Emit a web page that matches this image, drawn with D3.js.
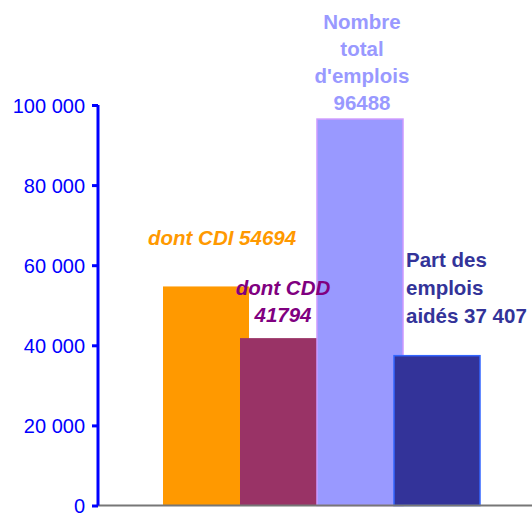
<!DOCTYPE html>
<html>
<head>
<meta charset="utf-8">
<script src="https://cdn.jsdelivr.net/npm/d3@7"></script>
<style>
  body { margin: 0; background: #fff; }
  svg { display: block; font-family: "Liberation Sans", Arial, sans-serif; }
</style>
</head>
<body>
<div id="chart"></div>
<script>
// chart values
var categories = ['CDI', 'CDD', 'Total', 'Aides'];
var values = [54694, 41794, 96488, 37407];
var yTicks = [0, 20000, 40000, 60000, 80000, 100000];
var labelLines = [
  ['dont CDI 54694'],
  ['dont CDD', '41794'],
  ['Nombre', 'total', "d'emplois", '96488'],
  ['Part des', 'emplois', 'aidés 37 407']
];

var fills = ['#FF9900', '#993366', '#9999FF', '#333399'];
var strokes = ['none', 'none', '#CC99FF', '#3366FF'];
var labelColors = ['#FF9900', '#800080', '#9999FF', '#333399'];

var width = 532, height = 513;

var svg = d3.select('#chart').append('svg')
  .attr('width', width)
  .attr('height', height);

var y = d3.scaleLinear().domain([0, 100000]).range([505.5, 105]);
var x = d3.scaleBand().domain(categories).range([163, 471]).paddingInner(0);
var barW = x.bandwidth() + 9;

// bars, drawn in order so each overlaps the previous
svg.selectAll('rect.bar')
  .data(values)
  .enter()
  .append('rect')
  .attr('class', 'bar')
  .attr('x', function(d, i) { return x(categories[i]); })
  .attr('y', function(d) { return y(d); })
  .attr('width', barW)
  .attr('height', function(d) { return y(0) - y(d); })
  .attr('fill', function(d, i) { return fills[i]; })
  .attr('stroke', function(d, i) { return strokes[i]; })
  .attr('stroke-width', 1.5);

// baseline
svg.append('line')
  .attr('x1', 98).attr('x2', width)
  .attr('y1', y(0)).attr('y2', y(0))
  .attr('stroke', '#777')
  .attr('stroke-width', 2);

// y axis
var axis = svg.append('g')
  .attr('transform', 'translate(98,0)')
  .call(d3.axisLeft(y)
    .tickValues(yTicks)
    .tickSize(6)
    .tickPadding(7)
    .tickFormat(function(d) { return d3.format(',')(d).replace(/,/g, ' '); }));
axis.select('.domain')
  .attr('stroke', '#0000FF')
  .attr('stroke-width', 3)
  .attr('d', 'M0,' + y(100000) + 'V' + y(0));
axis.selectAll('.tick line').attr('stroke', '#0000FF').attr('stroke-width', 3);
axis.selectAll('.tick text')
  .attr('fill', '#0000FF')
  .attr('font-size', 20)
  .attr('font-family', '"Liberation Sans", Arial, sans-serif')
  .attr('dy', '0.35em');

// annotations
var labelPos = [
  { x: 148, y: 245, anchor: 'start', italic: true, lh: 27 },
  { x: 283, y: 295, anchor: 'middle', italic: true, lh: 27 },
  { x: 362, y: 29, anchor: 'middle', italic: false, lh: 27 },
  { x: 406, y: 267, anchor: 'start', italic: false, lh: 28 }
];

labelLines.forEach(function(lines, i) {
  var p = labelPos[i];
  var t = svg.append('text')
    .attr('fill', labelColors[i])
    .attr('font-size', 20.5)
    .attr('font-weight', 'bold')
    .attr('font-style', p.italic ? 'italic' : 'normal')
    .attr('text-anchor', p.anchor);
  lines.forEach(function(line, j) {
    t.append('tspan')
      .attr('x', p.x)
      .attr('y', p.y + j * p.lh)
      .text(line);
  });
});
</script>
</body>
</html>
